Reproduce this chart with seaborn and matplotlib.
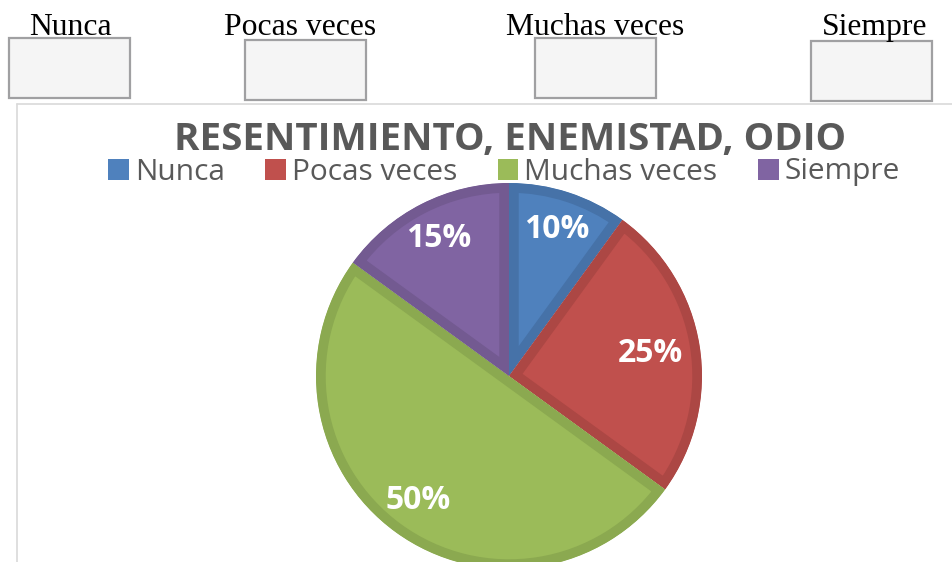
import numpy as np
import pandas as pd
import seaborn as sns
import matplotlib.pyplot as plt
from matplotlib.patches import Rectangle, Patch
from matplotlib.lines import Line2D

# data
categorias = ["Nunca", "Pocas veces", "Muchas veces", "Siempre"]
porcentajes = [10, 25, 50, 15]
titulo = "RESENTIMIENTO, ENEMISTAD, ODIO"

colores = ["#4F81BD", "#C0504D", "#9BBB59", "#8064A2"]
bordes = ["#4672A8", "#AC4744", "#8BA950", "#735A91"]

sns.set_theme(style="white")
plt.rcParams["font.family"] = ["Open Sans", "DejaVu Sans"]

W, H = 952, 562
fig = plt.figure(figsize=(W / 100, H / 100), dpi=100)
fig.patch.set_facecolor("white")

# checkbox row on top of the chart
top_x = [70, 300, 595, 875]
boxes = [(9, 38), (245, 40), (535, 38), (811, 41)]
for txt, cx, (bx, by) in zip(categorias, top_x, boxes):
    fig.text(cx / W, 1 - 35 / H, txt, ha="center", va="baseline",
             fontsize=22.8, family=["Liberation Serif"], color="black")
    fig.add_artist(Rectangle((bx / W, 1 - (by + 60) / H), 121 / W, 60 / H,
                             transform=fig.transFigure, facecolor="#F5F5F5",
                             edgecolor="#A0A0A2", linewidth=1.6))

# chart area frame
fig.add_artist(Line2D([17 / W, 17 / W], [0, 1 - 104 / H], transform=fig.transFigure,
                      color="#D9D9D9", linewidth=1.2))
fig.add_artist(Line2D([17 / W, 1], [1 - 104 / H, 1 - 104 / H], transform=fig.transFigure,
                      color="#D9D9D9", linewidth=1.2))

fig.text(510 / W, 1 - 150 / H, titulo, ha="center", va="baseline",
         fontsize=27.7, fontweight="bold", color="#595959")

# pie
cx, cy, r = 509, 376, 193
ax = fig.add_axes([(cx - r) / W, (H - cy - r) / H, 2 * r / W, 2 * r / H])
df = pd.DataFrame({"cat": categorias, "pct": porcentajes})
wedges, textos, autotextos = ax.pie(
    df["pct"], colors=colores, startangle=90, counterclock=False,
    autopct="%d%%", pctdistance=0.8,
    textprops=dict(color="white", fontsize=23, fontweight="bold"))
ax.set_xlim(-1, 1)
ax.set_ylim(-1, 1)
ax.set_aspect("equal")
ax.axis("off")
# inner border: thick edge clipped to the wedge itself
for w, b in zip(wedges, bordes):
    w.set_edgecolor(b)
    w.set_linewidth(14)
    w.set_clip_on(True)
    w.set_clip_path(w)
x, y = autotextos[1].get_position()
autotextos[1].set_position((x * 0.74 / 0.8, y * 0.74 / 0.8))

handles = [Patch(facecolor=c, edgecolor="none") for c in colores]
fig.legend(handles, categorias, loc="center", bbox_to_anchor=(504 / W, 1 - 172 / H),
           ncol=4, frameon=False, fontsize=21.5, labelcolor="#595959",
           handlelength=0.7, handleheight=0.7, handletextpad=0.2,
           columnspacing=1.35, borderpad=0)

fig.savefig("out.png", dpi=100)
